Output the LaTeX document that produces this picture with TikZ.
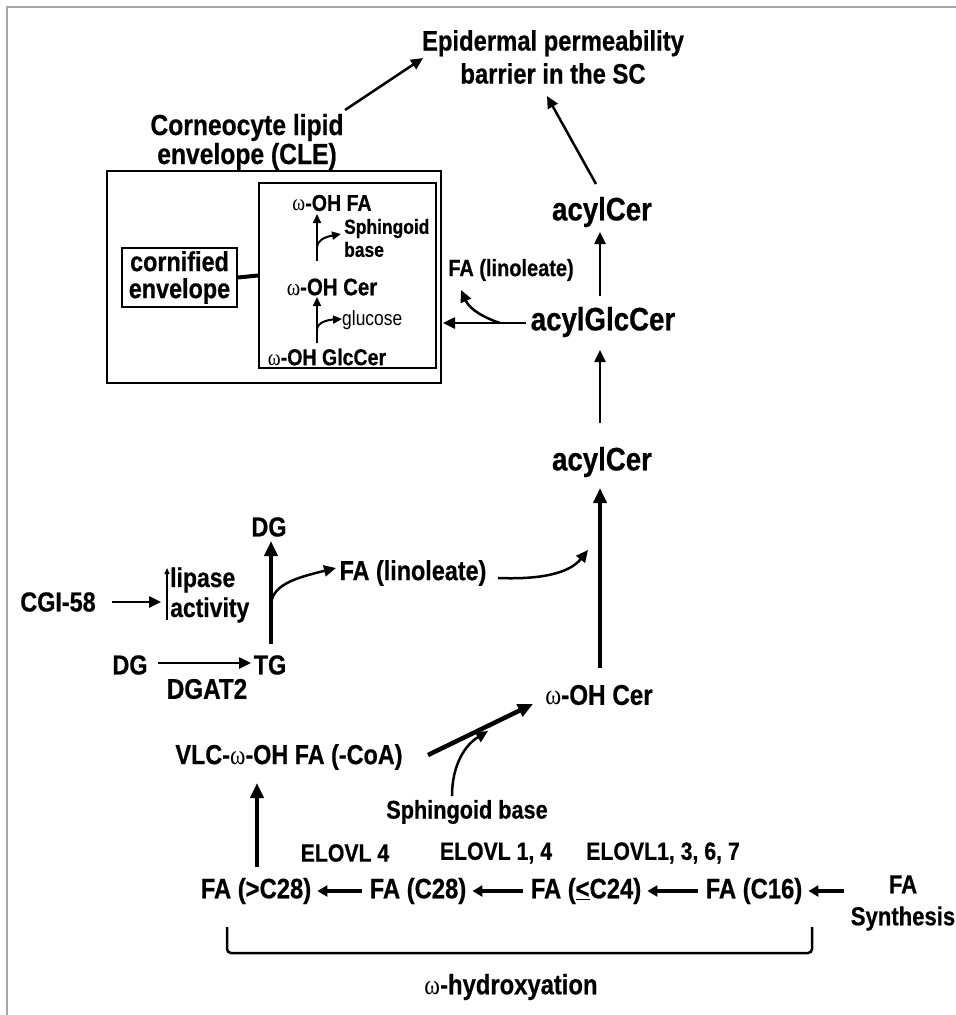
\documentclass[tikz,border=0pt]{standalone}
\usepackage{fontspec}
\setmainfont{Liberation Sans}[FakeStretch=0.85,BoldFeatures={FakeBold=0.6}]
\newfontfamily\omgfont{Liberation Serif}[FakeStretch=0.85]
\usetikzlibrary{arrows.meta}
\newcommand{\om}{{\omgfont\mdseries ω}}
\newcommand{\fs}[2]{\fontsize{#1}{#2}\selectfont}
\begin{document}
\begin{tikzpicture}[x=1pt,y=-1pt,
  lab/.style={font=\bfseries\fs{27.5}{30},inner sep=0pt,align=center},
  biglab/.style={font=\bfseries\fs{32.5}{34},inner sep=0pt,align=center},
  smlab/.style={font=\bfseries\fs{23}{26},inner sep=0pt,align=center},
  elab/.style={font=\bfseries\fs{25}{26},inner sep=0pt,align=center},
  arr/.style={line width=2.5pt,-{Triangle[length=12pt,width=11pt]}},
  tarr/.style={line width=4.5pt,-{Triangle[length=15pt,width=13pt]}},
  rarr/.style={line width=3.5pt,-{Triangle[length=10pt,width=11pt]}},
  iarr/.style={line width=2pt,-{Triangle[length=9pt,width=8pt]}},
  larr/.style={line width=1.4pt,-{Triangle[length=6pt,width=5pt]}},
  boxln/.style={line width=1.8pt}]
\useasboundingbox (0,0) rectangle (956,1015);
% frame
\draw[gray!70,line width=1.5pt] (7,1015) -- (7,7) -- (956,7);

% top
\node[lab,font=\bfseries\fs{28}{33}] (epi) at (553,57) {Epidermal permeability\\barrier in the SC};
\node[lab,font=\bfseries\fs{29}{29}] (cle) at (247,142) {Corneocyte lipid\\envelope (CLE)};
\coordinate (c1) at (345,110);
\coordinate (c2) at (423,58);
\draw[arr] (c1) -- (c2);

% CLE boxes
\node[draw,boxln,minimum width=334pt,minimum height=212pt,inner sep=0] (outer) at (274,277) {};
\node[draw,boxln,minimum width=177pt,minimum height=185pt,inner sep=0] (inner) at (347.5,275.5) {};
\node[draw,boxln,minimum width=115pt,minimum height=59pt,inner sep=0,font=\bfseries\fs{27.5}{27},align=center] (ce) at (179.5,277.5) {cornified\\envelope};
\draw[line width=4pt] (ce.east) -- (inner.west);

\node[smlab] (ohfa) at (332,203) {\om-OH FA};
\node[smlab,font=\bfseries\fs{20.5}{23},align=left,anchor=west] (sph1) at (344,238) {Sphingoid\\base};
\node[smlab,font=\bfseries\fs{24}{26}] (ohcer1) at (332,287) {\om-OH Cer};
\node[font=\fs{20.5}{22},inner sep=0,anchor=west] (glu) at (342,320) {glucose};
\node[smlab] (ohglc) at (327,357) {\om-OH GlcCer};
\coordinate (b1) at (317,248);
\coordinate (b1s) at (317,261);
\coordinate (b1e) at (317,214);
\coordinate (b1t) at (341,234);
\coordinate (b2) at (317,330);
\coordinate (b2s) at (317,343);
\coordinate (b2e) at (317,297);
\coordinate (b2t) at (342,319);
\draw[iarr] (b1s) -- (b1e);
\draw[iarr] (b1) .. controls (317,240) and (325,237) .. (b1t);
\draw[iarr] (b2s) -- (b2e);
\draw[iarr] (b2) .. controls (317,323) and (326,320) .. (b2t);

% right column
\node[biglab] (acyl1) at (602,212) {acylCer};
\node[biglab] (acylglc) at (603,322) {acylGlcCer};
\node[smlab,font=\bfseries\fs{23.5}{26}] (falin1) at (511,270) {FA (linoleate)};
\node[biglab] (acyl2) at (602,462) {acylCer};
\node[lab,font=\bfseries\fs{28.5}{30}] (ohcer2) at (599,695) {\om-OH Cer};

\coordinate (r1s) at (596,184);
\coordinate (r1e) at (547,96);
\draw[arr] (r1s) -- (r1e);
\coordinate (r2s) at (600,296);
\coordinate (r2e) at (600,232);
\draw[arr] (r2s) -- (r2e);
\coordinate (r3s) at (526,323);
\coordinate (r3e) at (443,323);
\coordinate (b3) at (500,323);
\coordinate (b3t) at (461,290);
\draw[arr] (r3s) -- (r3e);
\draw[arr] (b3) .. controls (485,318) and (470,310) .. (b3t);
\coordinate (r4s) at (600,423);
\coordinate (r4e) at (600,350);
\draw[arr] (r4s) -- (r4e);
\coordinate (r5s) at (600,668);
\coordinate (r5e) at (600,488);
\draw[tarr] (r5s) -- (r5e);

% TG / DG
\node[lab] (dgtop) at (269,527) {DG};
\node[lab] (falin2) at (413,573) {FA (linoleate)};
\node[lab] (cgi) at (58,602) {CGI-58};
\node[lab,font=\bfseries\fs{27}{30},align=left,anchor=west] (lip) at (170,595) {lipase\\activity};
\node[lab] (dgbot) at (130,665) {DG};
\node[lab] (tg) at (270,665) {TG};
\node[lab,font=\bfseries\fs{28.5}{30}] (dgat) at (207,689) {DGAT2};

\coordinate (t1s) at (271,644);
\coordinate (t1e) at (271,541);
\draw[tarr] (t1s) -- (t1e);
\coordinate (b4) at (271,606);
\coordinate (b4t) at (336,568);
\draw[arr] (b4) .. controls (271,585) and (295,578) .. (b4t);
\coordinate (cg1) at (112,602);
\coordinate (cg2) at (161,602);
\draw[arr] (cg1) -- (cg2);
\coordinate (l1) at (167,620);
\coordinate (l2) at (167,568);
\draw[larr] (l1) -- (l2);
\coordinate (d1) at (158,663);
\coordinate (d2) at (251,663);
\draw[arr] (d1) -- (d2);
\coordinate (f1) at (498,578);
\coordinate (f2) at (588,550);
\draw[arr] (f1) .. controls (550,580) and (572,570) .. (f2);

% lower
\node[lab] (vlc) at (289,757) {VLC-\om-OH FA (-CoA)};
\node[lab,font=\bfseries\fs{25.5}{26}] (sphb) at (467,812) {Sphingoid base};
\coordinate (v1) at (428,755);
\coordinate (v2) at (533,704);
\draw[tarr] (v1) -- (v2);
\coordinate (s1) at (452,796);
\coordinate (s2) at (488,731);
\draw[arr] (s1) .. controls (452,765) and (465,745) .. (s2);

\node[elab] (el1) at (345,853) {ELOVL 4};
\node[elab] (el2) at (496,853) {ELOVL 1, 4};
\node[elab] (el3) at (663,853) {ELOVL1, 3, 6, 7};

\node[lab,font=\bfseries\fs{28}{30}] (fa1) at (256,891) {FA (>C28)};
\node[lab,font=\bfseries\fs{28}{30}] (fa2) at (418,891) {FA (C28)};
\node[lab,font=\bfseries\fs{28}{30}] (fa3) at (586,891) {FA (\underline{<}C24)};
\node[lab,font=\bfseries\fs{28}{30}] (fa4) at (754,891) {FA (C16)};
\node[lab,font=\bfseries\fs{26}{32}] (fas) at (903,903) {FA\\Synthesis};

\coordinate (u1) at (257,867);
\coordinate (u2) at (257,783);
\draw[tarr] (u1) -- (u2);
\draw[rarr] ([xshift=-8pt]fa2.west) -- ([xshift=6pt]fa1.east);
\draw[rarr] ([xshift=-8pt]fa3.west) -- ([xshift=6pt]fa2.east);
\draw[rarr] ([xshift=-8pt]fa4.west) -- ([xshift=6pt]fa3.east);
\draw[rarr] ([xshift=-7pt]fas.west |- fa4) -- ([xshift=6pt]fa4.east);

\coordinate (br1) at (227,927);
\coordinate (br2) at (812,927);
\draw[line width=2.5pt,rounded corners=4pt] (br1) -- (227,953) -- (812,953) -- (br2);
\node[lab,font=\bfseries\fs{28}{28}] (ohx) at (511,987) {\om-hydroxyation};
\end{tikzpicture}
\end{document}
